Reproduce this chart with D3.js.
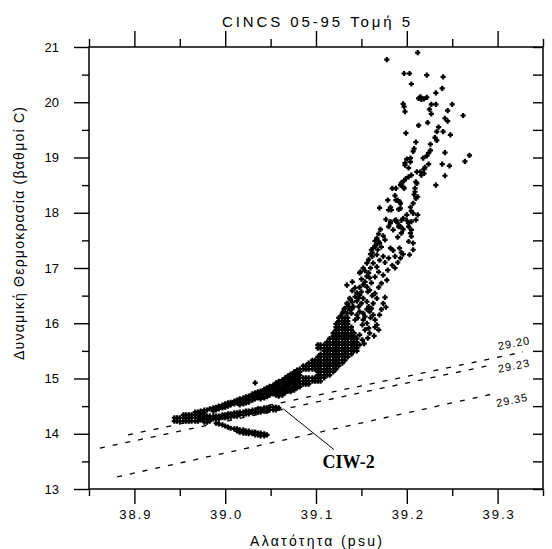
<!DOCTYPE html>
<html><head><meta charset="utf-8">
<script src="https://cdn.jsdelivr.net/npm/d3@7"></script>
<style>body{margin:0;background:#fff}</style>
</head><body>
<svg id="chart" width="552" height="549"></svg>
<script>
// ---------- text ----------
const titleText = "CINCS 05-95 Τομή 5";
const xTitle = "Αλατότητα (psu)";
const yTitle = "Δυναμική Θερμοκρασία (βαθμοί C)";

// ---------- ticks ----------
const xMajorTicks = [38.9, 39.0, 39.1, 39.2, 39.3];
const xMinorTicks = [38.85, 38.95, 39.05, 39.15, 39.25, 39.35];
const yMajorTicks = [13, 14, 15, 16, 17, 18, 19, 20, 21];
const yMinorTicks = [13.5, 14.5, 15.5, 16.5, 17.5, 18.5, 19.5, 20.5];

// ---------- isopycnals (sigma-theta) ----------
const isoLabels = ["29.20", "29.23", "29.35"];
const isoSalinity = [[38.893, 39.328], [38.862, 39.292], [38.881, 39.300]];
const isoTemperature = [[13.98, 15.48], [13.74, 15.24], [13.22, 14.74]];
const isoLabelSalinity = [39.318, 39.318, 39.316];
const isoLabelTemperature = [15.64, 15.23, 14.61];

// ---------- annotation ----------
const annotationText = "CIW-2";
const annotationLine = [[39.064, 14.45], [39.120, 13.71]];
const annotationPos = [39.136, 13.38];

// ---------- T-S data: dense core read column by column (salinity, temperatures) ----------
const coreColumns = [
[38.944,[14.29,14.23]],
[38.947,[14.29,14.23]],
[38.950,[14.29,14.23]],
[38.954,[14.34,14.29,14.23]],
[38.957,[14.34,14.29,14.23]],
[38.960,[14.34,14.29,14.23]],
[38.963,[14.34,14.29,14.23]],
[38.967,[14.39,14.34,14.29,14.23]],
[38.970,[14.39,14.34,14.29,14.23]],
[38.973,[14.41,14.36,14.30,14.25]],
[38.977,[14.43,14.38,14.32,14.27,14.21]],
[38.980,[14.43,14.32,14.27,14.21]],
[38.983,[14.45,14.32,14.27,14.23]],
[38.987,[14.47,14.41,14.32,14.27]],
[38.990,[14.48,14.43,14.32,14.27,14.19]],
[38.993,[14.50,14.45,14.32,14.27,14.18]],
[38.997,[14.52,14.47,14.34,14.29,14.16]],
[39.000,[14.54,14.48,14.34,14.29,14.14]],
[39.003,[14.56,14.50,14.36,14.30,14.12]],
[39.006,[14.57,14.52,14.36,14.30,14.10]],
[39.010,[14.59,14.54,14.38,14.32,14.09]],
[39.013,[14.61,14.56,14.38,14.32,14.09,14.05]],
[39.016,[14.63,14.57,14.52,14.39,14.34,14.07,14.03]],
[39.020,[14.65,14.59,14.54,14.39,14.34,14.07,14.01]],
[39.023,[14.67,14.61,14.56,14.41,14.36,14.05,14.01]],
[39.026,[14.68,14.63,14.57,14.41,14.36,14.05,14.00]],
[39.030,[14.72,14.67,14.61,14.43,14.38,14.03,14.00]],
[39.033,[14.74,14.68,14.63,14.43,14.38,14.03,13.98]],
[39.036,[14.76,14.70,14.65,14.45,14.39,14.01,13.98]],
[39.039,[14.77,14.72,14.67,14.63,14.45,14.39,14.01,13.96]],
[39.043,[14.81,14.76,14.70,14.65,14.47,14.41,14.00,13.96]],
[39.046,[14.83,14.77,14.72,14.67,14.47,14.41,13.98]],
[39.049,[14.86,14.81,14.76,14.70,14.48,14.43]],
[39.053,[14.88,14.83,14.77,14.72,14.48,14.43]],
[39.056,[14.92,14.86,14.81,14.76,14.70,14.48,14.43]],
[39.059,[14.95,14.90,14.85,14.79,14.74,14.68,14.47]],
[39.063,[14.97,14.92,14.86,14.81,14.76,14.70]],
[39.066,[15.01,14.95,14.90,14.85,14.79,14.74]],
[39.069,[15.05,14.99,14.94,14.88,14.83,14.77]],
[39.072,[15.08,15.03,14.97,14.92,14.86,14.81,14.76]],
[39.076,[15.12,15.06,15.01,14.95,14.90,14.85,14.79]],
[39.079,[15.15,15.10,15.05,14.99,14.94,14.88,14.83]],
[39.082,[15.17,15.12,15.06,15.01,14.95,14.90,14.85]]
];

// ---------- T-S data: dense core read row by row (temperature, salinities) ----------
const coreRows = [
[14.90,[39.086,39.089,39.092]],
[14.95,[39.086,39.089,39.092,39.096,39.099,39.102,39.105]],
[15.01,[39.086,39.089,39.092,39.096,39.099,39.102,39.105,39.109]],
[15.06,[39.102,39.105,39.109,39.112,39.115]],
[15.12,[39.102,39.105,39.109,39.112,39.115,39.119]],
[15.17,[39.086,39.089,39.092,39.096,39.099,39.102,39.105,39.109,39.112,39.115,39.119,39.122]],
[15.23,[39.086,39.089,39.092,39.096,39.099,39.102,39.105,39.109,39.112,39.115,39.119,39.122,39.125]],
[15.28,[39.092,39.096,39.099,39.102,39.105,39.109,39.112,39.115,39.119,39.122,39.125,39.129]],
[15.33,[39.096,39.099,39.102,39.105,39.109,39.112,39.115,39.119,39.122,39.125,39.129,39.132]],
[15.39,[39.102,39.105,39.109,39.112,39.115,39.119,39.122,39.125,39.129,39.132,39.135]],
[15.44,[39.105,39.109,39.112,39.115,39.119,39.122,39.125,39.129,39.132,39.135,39.139]],
[15.50,[39.109,39.112,39.115,39.119,39.122,39.125,39.129,39.132,39.135,39.139,39.142,39.145]],
[15.55,[39.102,39.105,39.109,39.112,39.115,39.119,39.122,39.125,39.129,39.132,39.135,39.139,39.142,39.145]],
[15.61,[39.102,39.105,39.109,39.112,39.115,39.119,39.122,39.125,39.129,39.132,39.135,39.139,39.142,39.145,39.148]],
[15.66,[39.112,39.115,39.119,39.122,39.125,39.129,39.132,39.135,39.139,39.142,39.145]],
[15.72,[39.115,39.119,39.122,39.125,39.129,39.132,39.135,39.139,39.142,39.145]],
[15.77,[39.119,39.122,39.125,39.129,39.132,39.135,39.139,39.142]],
[15.82,[39.119,39.122,39.125,39.129,39.132,39.135,39.139,39.142]],
[15.88,[39.122,39.125,39.129,39.132,39.135,39.139]],
[15.93,[39.122,39.125,39.129,39.132,39.135,39.139]],
[15.99,[39.122,39.125,39.129,39.132,39.135]],
[16.04,[39.125,39.129,39.132,39.135]],
[16.10,[39.125,39.129,39.132,39.135]]
];

// ---------- T-S data: individually read points [salinity, temperature] ----------
const scatterPoints = [
[39.212,20.90],[39.178,20.77],[39.197,20.52],[39.203,20.52],[39.222,20.49],[39.240,20.46],[39.205,20.33],[39.239,20.25],[39.232,20.17],
[39.213,20.07],[39.215,20.10],[39.216,20.05],[39.219,20.06],[39.222,20.09],
[39.196,19.97],[39.197,19.92],[39.198,19.83],[39.227,19.96],[39.232,19.96],[39.250,19.96],
[39.225,19.87],[39.227,19.79],[39.245,19.85],[39.262,19.76],[39.242,19.71],[39.245,19.66],[39.223,19.63],[39.213,19.58],[39.235,19.55],
[39.233,19.47],[39.240,19.47],[39.199,19.44],[39.248,19.41],[39.231,19.36],[39.233,19.31],[39.210,19.28],[39.226,19.24],
[39.208,19.16],[39.207,19.11],[39.226,19.13],[39.224,19.08],[39.242,19.09],[39.269,19.04],[39.264,18.93],[39.222,19.03],[39.218,18.99],
[39.204,18.99],[39.200,18.97],[39.204,18.92],[39.198,18.90],[39.198,18.86],[39.239,18.88],[39.247,18.85],
[39.224,18.88],[39.220,18.82],[39.219,18.79],[39.216,18.68],[39.202,18.81],[39.211,18.74],[39.205,18.68],[39.202,18.65],[39.215,18.74],[39.219,18.71],[39.242,18.67],
[39.199,18.62],[39.197,18.58],[39.194,18.54],[39.193,18.50],[39.210,18.56],[39.211,18.53],[39.232,18.50],
[39.184,18.44],[39.188,18.44],[39.197,18.44],[39.209,18.44],[39.196,18.47],
[39.209,18.38],[39.208,18.33],[39.210,18.26],[39.212,18.29],
[39.187,18.31],[39.190,18.23],[39.192,18.20],[39.193,18.08],[39.179,18.23],[39.188,18.23],[39.193,18.17],[39.207,18.17],
[39.170,18.09],[39.180,18.05],[39.191,18.06],[39.204,18.10],[39.183,18.05],[39.182,18.10],
[39.212,17.96],[39.207,17.99],[39.196,17.90],[39.200,17.86],[39.202,17.81],[39.205,17.84],
[39.177,17.88],[39.182,17.81],[39.187,17.86],[39.191,17.75],[39.182,17.84],[39.180,17.75],[39.185,17.69],[39.188,17.87],[39.190,17.81],[39.193,17.75],
[39.171,17.70],[39.196,17.70],[39.205,18.03],[39.200,17.96],[39.210,17.87],[39.194,17.86],[39.205,17.69],[39.202,17.75],
[39.169,17.62],[39.167,17.54],[39.165,17.49],[39.166,17.42],[39.163,17.36],[39.162,17.28],[39.162,17.21],
[39.174,17.58],[39.176,17.51],[39.170,17.45],[39.172,17.38],[39.168,17.33],
[39.190,17.56],[39.194,17.63],[39.204,17.63],[39.205,17.57],[39.207,17.45],[39.202,17.48],
[39.182,17.36],[39.185,17.32],[39.192,17.36],[39.194,17.28],[39.196,17.25],[39.203,17.24],[39.207,17.33],
[39.174,17.21],[39.180,17.18],[39.187,17.21],[39.193,17.18],
[39.169,17.48],[39.165,17.39],[39.161,17.33],[39.167,17.24],[39.170,17.14],[39.156,17.09],[39.163,17.09],[39.152,17.00],[39.167,17.02],
[39.149,16.93],[39.148,16.91],[39.169,16.93],[39.158,16.91],[39.165,16.84],[39.159,16.82],[39.154,16.75],[39.161,16.73],[39.156,16.66],
[39.143,16.64],[39.140,16.59],[39.159,16.60],[39.165,16.54],[39.148,16.51],[39.137,16.45],[39.152,16.45],[39.167,16.45],[39.156,16.39],
[39.134,16.36],[39.150,16.36],[39.163,16.36],[39.141,16.30],[39.147,16.30],[39.158,16.30],[39.132,16.27],[39.161,16.27],[39.137,16.24],
[39.130,16.21],[39.148,16.21],[39.159,16.21],[39.145,16.15],[39.163,16.15],[39.127,16.12],[39.154,16.12],[39.143,16.06],[39.152,16.06],
[39.165,16.06],[39.156,16.00],[39.167,15.97],[39.158,15.91],[39.169,15.88],
[39.176,16.47],[39.174,16.36],[39.177,16.29],[39.134,16.69],[39.140,16.75],
[39.151,15.97],[39.154,15.88],[39.159,15.82],[39.164,15.77],[39.157,15.73],[39.151,15.70],[39.165,15.93],[39.148,15.79],[39.153,15.63],
[39.176,17.10],[39.184,17.05],[39.179,16.96],[39.187,17.00],[39.174,16.87],[39.190,17.10],[39.172,16.72],[39.178,16.78],[39.169,16.65],
[39.129,16.18],[39.134,16.18],[39.139,16.18],[39.131,16.26],[39.136,16.30],[39.140,16.27],[39.135,16.35],[39.140,16.38],[39.145,16.40],
[39.138,16.43],[39.143,16.48],[39.147,16.46],[39.145,16.55],[39.150,16.57],[39.148,16.65],[39.152,16.70],[39.150,16.80],[39.156,16.85],
[39.154,16.95],[39.160,17.00],[39.158,17.15],[39.160,17.25],[39.157,16.57],[39.162,16.50],[39.156,16.25],[39.152,16.18],[39.146,16.10],
[39.160,16.10],[39.170,16.15],[39.172,16.25],
[39.033,14.92]
];

// ================= drawing =================
const FONT = "'Liberation Sans', Arial, Helvetica, sans-serif";
const svg = d3.select("#chart");
const x = d3.scaleLinear().domain([38.85, 39.35]).range([89, 543]);
const y = d3.scaleLinear().domain([13, 21]).range([489, 47]);

svg.append("rect").attr("width", 552).attr("height", 549).attr("fill", "#fff");

function styleAxis(g) {
  g.select(".domain").remove();
  g.selectAll(".tick line").attr("stroke", "#000").attr("stroke-width", 1.4);
  g.selectAll(".tick text").attr("fill", "#000").style("font-family", FONT).style("font-size", "13px");
}

// bottom axis
svg.append("g").attr("transform", `translate(0,${y(13)})`)
  .call(d3.axisBottom(x).tickValues(xMinorTicks).tickSize(7).tickSizeOuter(0).tickFormat(""))
  .call(styleAxis);
svg.append("g").attr("transform", `translate(0,${y(13)})`)
  .call(d3.axisBottom(x).tickValues(xMajorTicks).tickSize(15).tickSizeOuter(0).tickPadding(6).tickFormat(d3.format(".1f")))
  .call(styleAxis)
  .call(g => g.selectAll(".tick text").style("letter-spacing", "2px").attr("dx", "1"));
// top axis
svg.append("g").attr("transform", `translate(0,${y(21)})`)
  .call(d3.axisTop(x).tickValues(xMinorTicks).tickSize(8).tickSizeOuter(0).tickFormat(""))
  .call(styleAxis);
svg.append("g").attr("transform", `translate(0,${y(21)})`)
  .call(d3.axisTop(x).tickValues(xMajorTicks).tickSize(16).tickSizeOuter(0).tickFormat(""))
  .call(styleAxis);
// left axis
svg.append("g").attr("transform", `translate(${x(38.85)},0)`)
  .call(d3.axisLeft(y).tickValues(yMinorTicks).tickSize(7).tickSizeOuter(0).tickFormat(""))
  .call(styleAxis);
svg.append("g").attr("transform", `translate(${x(38.85)},0)`)
  .call(d3.axisLeft(y).tickValues(yMajorTicks).tickSize(15).tickSizeOuter(0).tickPadding(15).tickFormat(d3.format("d")))
  .call(styleAxis);
// right axis (ticks inward)
svg.append("g").attr("transform", `translate(${x(39.35)},0)`)
  .call(d3.axisRight(y).tickValues(yMajorTicks.concat(yMinorTicks)).tickSize(-10).tickSizeOuter(0).tickFormat(""))
  .call(styleAxis);

// frame
svg.append("rect")
  .attr("x", x(38.85)).attr("y", y(21))
  .attr("width", x(39.35) - x(38.85)).attr("height", y(13) - y(21))
  .attr("fill", "none").attr("stroke", "#000").attr("stroke-width", 1.5);

// isopycnals
const isoLine = d3.line().x(d => x(d[0])).y(d => y(d[1]));
isoLabels.forEach((lab, i) => {
  const pts = isoSalinity[i].map((s, j) => [s, isoTemperature[i][j]]);
  svg.append("path").attr("d", isoLine(pts))
    .attr("fill", "none").attr("stroke", "#000").attr("stroke-width", 1.3)
    .attr("stroke-dasharray", "5,8");
  const lx = x(isoLabelSalinity[i]), ly = y(isoLabelTemperature[i]);
  svg.append("text").text(lab)
    .attr("transform", `translate(${lx},${ly}) rotate(-11)`)
    .attr("text-anchor", "middle").attr("dy", "0.35em")
    .style("font-family", FONT).style("font-size", "11px").style("letter-spacing", "1px")
    .attr("fill", "#000");
});

// T-S points
const allPoints = []
  .concat(coreColumns.flatMap(([s, ts]) => ts.map(t => [s, t])))
  .concat(coreRows.flatMap(([t, ss]) => ss.map(s => [s, t])))
  .concat(scatterPoints);
svg.append("g").selectAll("path").data(allPoints).join("path")
  .attr("transform", d => `translate(${x(d[0])},${y(d[1])})`)
  .attr("d", "M-2.6,0H2.6M0,-2.6V2.6")
  .attr("stroke", "#000").attr("stroke-width", 2.2).attr("fill", "none");

// annotation
svg.append("line")
  .attr("x1", x(annotationLine[0][0])).attr("y1", y(annotationLine[0][1]))
  .attr("x2", x(annotationLine[1][0])).attr("y2", y(annotationLine[1][1]))
  .attr("stroke", "#000").attr("stroke-width", 1);
svg.append("text").text(annotationText)
  .attr("x", x(annotationPos[0])).attr("y", y(annotationPos[1]))
  .attr("text-anchor", "middle")
  .style("font-family", "'Liberation Serif', 'Times New Roman', serif")
  .style("font-weight", "bold").style("font-size", "18px").attr("fill", "#000");

// titles
svg.append("text").text(titleText)
  .attr("x", 316).attr("y", 27).attr("text-anchor", "middle")
  .attr("textLength", 188).attr("lengthAdjust", "spacing")
  .style("font-family", FONT).style("font-size", "15px").attr("fill", "#000");
svg.append("text").text(xTitle)
  .attr("x", 316).attr("y", 546).attr("text-anchor", "middle")
  .attr("textLength", 132).attr("lengthAdjust", "spacing")
  .style("font-family", FONT).style("font-size", "14px").attr("fill", "#000");
svg.append("text").text(yTitle)
  .attr("transform", "translate(24,233.5) rotate(-90)").attr("text-anchor", "middle")
  .attr("textLength", 253).attr("lengthAdjust", "spacing")
  .style("font-family", FONT).style("font-size", "14px").attr("fill", "#000");
</script>
</body></html>
